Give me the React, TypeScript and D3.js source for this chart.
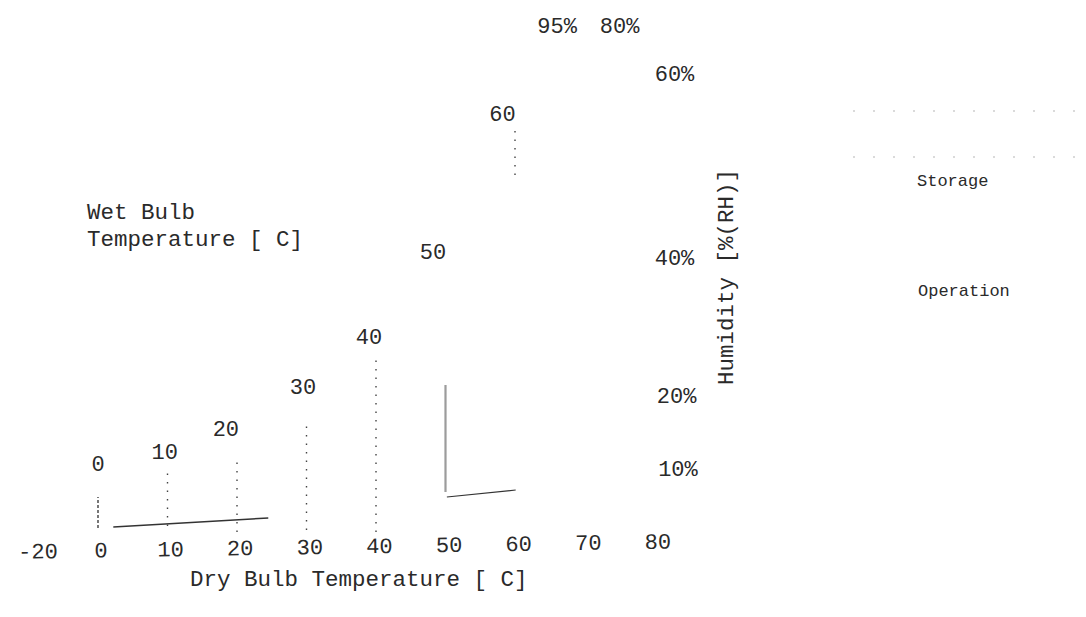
import React, { useEffect, useRef } from "react";
import * as d3 from "d3";

// Dry bulb temperature axis labels [°C]
const dryBulbTicks = [-20, 0, 10, 20, 30, 40, 50, 60, 70, 80];
// Wet bulb temperature lines [°C]
const wetBulbValues = [0, 10, 20, 30, 40, 50, 60];
// where each wet-bulb label sits (dry-bulb °C, chart height units)
const wetLabelT = [0, 9.6, 18.4, 29.5, 39, 48.2, 58.2];
const wetLabelH = [65, 77, 100, 142, 192, 277, 415];
// visible extent of each wet-bulb line (chart height units) and its style
const wetLineLow = [2, 4, -2, 0, -2, 38, 355];
const wetLineHigh = [33, 58, 70, 105, 175, 145, 400];
const wetLineKind = ["solid", "dotted", "dotted", "dotted", "dotted", "gray", "dotted"];
// relative humidity labels
const rhLabels = ["95%", "80%", "60%", "40%", "20%", "10%"];
const rhLabelT = [63.2, 72.2, 80.1, 80.1, 80.4, 80.6];
const rhLabelH = [503, 503, 455, 271, 133, 60];
// faint boundary segments [t, h]
const bottomLineA: [number, number][] = [[2.2, 3], [24.5, 12]];
const bottomLineB: [number, number][] = [[50.2, 33], [60.1, 40]];

const W = 1086;
const H = 617;
const MONO = "'Liberation Mono', 'DejaVu Sans Mono', monospace";

export default function App() {
  const ref = useRef<SVGSVGElement | null>(null);

  useEffect(() => {
    const svg = d3.select(ref.current);
    svg.selectAll("*").remove();

    const x = d3.scaleLinear().domain([0, 80]).range([98, 654]);
    const xLabel = d3.scaleLinear().domain([-20, 0, 80]).range([38, 101, 658]);
    const y = d3.scaleLinear().domain([0, 500]).range([530, 30]);

    svg.append("rect").attr("width", W).attr("height", H).attr("fill", "#ffffff");

    const ink = "#2a2a2a";

    // faint legend box lines near "Storage"
    const leg = svg.append("g").attr("stroke", "#b5b5b5").attr("stroke-width", 1.1)
      .attr("stroke-dasharray", "2 18");
    leg.append("line").attr("x1", 853).attr("x2", 1075).attr("y1", 111).attr("y2", 111);
    leg.append("line").attr("x1", 853).attr("x2", 1075).attr("y1", 157).attr("y2", 157);

    // wet bulb lines
    const lines = svg.append("g");
    wetBulbValues.forEach((t, i) => {
      const kind = wetLineKind[i];
      const l = lines.append("line")
        .attr("x1", x(t)).attr("x2", x(t))
        .attr("y1", y(wetLineLow[i])).attr("y2", y(wetLineHigh[i]));
      if (kind === "solid") {
        l.attr("stroke", "#555").attr("stroke-width", 1.6).attr("stroke-dasharray", "3 2");
      } else if (kind === "gray") {
        l.attr("stroke", "#9c9c9c").attr("stroke-width", 2.2);
      } else {
        l.attr("stroke", "#444").attr("stroke-width", 1.4).attr("stroke-dasharray", "1.5 7");
      }
    });

    const lineGen = d3.line<[number, number]>().x((d) => x(d[0])).y((d) => y(d[1]));
    svg.append("path").attr("d", lineGen(bottomLineA)).attr("fill", "none")
      .attr("stroke", "#333").attr("stroke-width", 1.5);
    svg.append("path").attr("d", lineGen(bottomLineB)).attr("fill", "none")
      .attr("stroke", "#333").attr("stroke-width", 1.2);

    // dry bulb tick labels (slightly tilted as in scan)
    const tickG = svg.append("g")
      .attr("transform", `rotate(-0.9, ${xLabel(-20)}, 553)`);
    tickG.selectAll("text").data(dryBulbTicks).join("text")
      .attr("x", (d) => xLabel(d)).attr("y", 553)
      .attr("text-anchor", "middle").attr("dominant-baseline", "central")
      .attr("font-family", MONO).attr("font-size", 22).attr("fill", ink)
      .text((d) => String(d));

    svg.append("text").attr("x", 190).attr("y", 580)
      .attr("dominant-baseline", "central")
      .attr("font-family", MONO).attr("font-size", 22.5).attr("fill", ink)
      .attr("xml:space", "preserve")
      .text("Dry Bulb Temperature [ C]");

    // wet bulb labels
    svg.append("g").selectAll("text").data(wetBulbValues).join("text")
      .attr("x", (_d, i) => x(wetLabelT[i])).attr("y", (_d, i) => y(wetLabelH[i]))
      .attr("text-anchor", "middle").attr("dominant-baseline", "central")
      .attr("font-family", MONO).attr("font-size", 22).attr("fill", ink)
      .text((d) => String(d));

    const wt = svg.append("text").attr("font-family", MONO).attr("font-size", 22.5)
      .attr("fill", ink).attr("xml:space", "preserve");
    wt.append("tspan").attr("x", 87).attr("y", 213).attr("dominant-baseline", "central").text("Wet Bulb");
    wt.append("tspan").attr("x", 87).attr("y", 240).attr("dominant-baseline", "central").text("Temperature [ C]");

    // relative humidity labels
    svg.append("g").selectAll("text").data(rhLabels).join("text")
      .attr("x", (_d, i) => x(rhLabelT[i])).attr("y", (_d, i) => y(rhLabelH[i]))
      .attr("dominant-baseline", "central")
      .attr("font-family", MONO).attr("font-size", 22).attr("fill", ink)
      .text((d) => d);

    svg.append("text")
      .attr("transform", "translate(727, 277) rotate(-90)")
      .attr("text-anchor", "middle").attr("dominant-baseline", "central")
      .attr("font-family", MONO).attr("font-size", 22.5).attr("fill", ink)
      .text("Humidity [%(RH)]");

    svg.append("text").attr("x", 917).attr("y", 181).attr("dominant-baseline", "central")
      .attr("font-family", MONO).attr("font-size", 17).attr("fill", ink).text("Storage");
    svg.append("text").attr("x", 918).attr("y", 291).attr("dominant-baseline", "central")
      .attr("font-family", MONO).attr("font-size", 17).attr("fill", ink).text("Operation");
  }, []);

  return (
    <svg
      ref={ref}
      width={W}
      height={H}
      style={{ position: "absolute", left: 0, top: 0, display: "block" }}
    />
  );
}
